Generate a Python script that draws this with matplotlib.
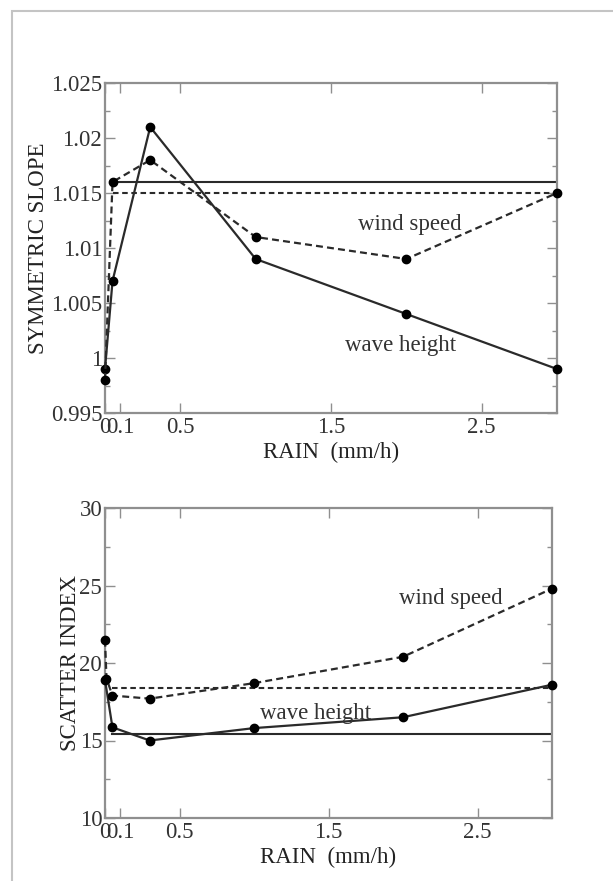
import matplotlib
matplotlib.use("Agg")
import matplotlib.pyplot as plt
from matplotlib.patches import Rectangle
from matplotlib.ticker import FixedLocator, MultipleLocator

plt.rcParams['font.family'] = ['Liberation Serif', 'DejaVu Serif']
plt.rcParams['lines.scale_dashes'] = False

# ---- data: symmetric slope ----
slope_wave_x = [0.0, 0.05, 0.3, 1.0, 2.0, 3.0]
slope_wave_y = [0.999, 1.007, 1.021, 1.009, 1.004, 0.999]
slope_wind_x = [0.0, 0.05, 0.3, 1.0, 2.0, 3.0]
slope_wind_y = [0.998, 1.016, 1.018, 1.011, 1.009, 1.015]
slope_ref_wave = 1.016
slope_ref_wind = 1.015

# ---- data: scatter index ----
si_wave_x = [0.0, 0.05, 0.3, 1.0, 2.0, 3.0]
si_wave_y = [18.9, 15.85, 15.0, 15.8, 16.5, 18.6]
si_wind_x = [0.0, 0.01, 0.05, 0.3, 1.0, 2.0, 3.0]
si_wind_y = [21.5, 19.0, 17.9, 17.7, 18.7, 20.4, 24.8]
si_ref_wave = 15.4
si_ref_wind = 18.4

ref_x = [0.05, 3.0]
xticks = [0, 0.1, 0.5, 1.5, 2.5]
xticklabels = ["0", "0.1", "0.5", "1.5", "2.5"]
slope_yticks = [0.995, 1.0, 1.005, 1.01, 1.015, 1.02, 1.025]
slope_yticklabels = ["0.995", "1", "1.005", "1.01", "1.015", "1.02", "1.025"]
si_yticks = [10, 15, 20, 25, 30]
si_yticklabels = ["10", "15", "20", "25", "30"]

W, H = 613, 881
fig = plt.figure(figsize=(W / 100, H / 100), dpi=100)
fig.patch.set_facecolor('white')

# faint outer frame
fig.add_artist(Rectangle((11.5 / W, -0.2), 1.5, 1 - 11 / H + 0.2,
                         transform=fig.transFigure, fill=False,
                         edgecolor='#c4c4c4', lw=1.5, clip_on=False))

spine_c = '#8f8f8f'
line_c = '#2a2a2a'
fs = 16.5
dash_ref = (0, (4, 2.6))
dash_data = (0, (5, 3))


def style(ax, yticks, yticklabels, ylim, minor, ylabel, labely):
    ax.set_xlim(0, 3.0)
    ax.set_ylim(*ylim)
    ax.xaxis.set_major_locator(FixedLocator(xticks))
    ax.set_xticklabels(xticklabels)
    ax.set_yticks(yticks)
    ax.set_yticklabels(yticklabels)
    ax.yaxis.set_minor_locator(MultipleLocator(minor))
    for s in ax.spines.values():
        s.set_color(spine_c)
        s.set_linewidth(1.6)
    ax.tick_params(which='both', direction='in', top=True, right=True,
                   color=spine_c, labelsize=fs, width=1.0)
    ax.tick_params(which='major', length=7)
    ax.tick_params(which='minor', length=3.5)
    ax.tick_params(axis='y', pad=2)
    ax.tick_params(axis='x', pad=3)
    ax.set_xlabel("RAIN  (mm/h)", fontsize=fs, labelpad=3, color='#222222')
    ax.set_ylabel(ylabel, fontsize=fs, color='#222222', labelpad=labely)
    for lab in ax.get_xticklabels() + ax.get_yticklabels():
        lab.set_color('#333333')


ax1 = fig.add_axes([105 / W, 1 - 413 / H, 452 / W, 330 / H])
ax1.plot(ref_x, [slope_ref_wave] * 2, color=line_c, lw=1.5)
ax1.plot(ref_x, [slope_ref_wind] * 2, color=line_c, lw=1.5, ls=dash_ref)
ax1.plot(slope_wave_x, slope_wave_y, color=line_c, lw=1.6, marker='o',
         ms=6, mfc='black', mec='black', clip_on=False, zorder=3)
ax1.plot(slope_wind_x, slope_wind_y, color=line_c, lw=1.6, ls=dash_data, marker='o',
         ms=6, mfc='black', mec='black', clip_on=False, zorder=3)
ax1.text(2.02, 1.0121, "wind speed", fontsize=fs, ha='center', va='center', color='#333333')
ax1.text(1.96, 1.0011, "wave height", fontsize=fs, ha='center', va='center', color='#333333')
style(ax1, slope_yticks, slope_yticklabels, (0.995, 1.025), 0.0025,
      "SYMMETRIC SLOPE", 1)

ax2 = fig.add_axes([105 / W, 1 - 818 / H, 447 / W, 310 / H])
ax2.plot(ref_x, [si_ref_wave] * 2, color=line_c, lw=1.5)
ax2.plot(ref_x, [si_ref_wind] * 2, color=line_c, lw=1.5, ls=dash_ref)
ax2.plot(si_wave_x, si_wave_y, color=line_c, lw=1.6, marker='o',
         ms=6, mfc='black', mec='black', clip_on=False, zorder=3)
ax2.plot(si_wind_x, si_wind_y, color=line_c, lw=1.6, ls=dash_data, marker='o',
         ms=6, mfc='black', mec='black', clip_on=False, zorder=3)
ax2.text(2.32, 24.16, "wind speed", fontsize=fs, ha='center', va='center', color='#333333')
ax2.text(1.41, 16.75, "wave height", fontsize=fs, ha='center', va='center', color='#333333')
style(ax2, si_yticks, si_yticklabels, (10, 30), 2.5, "SCATTER INDEX", -1)

fig.savefig("out.png", dpi=100, facecolor='white')
